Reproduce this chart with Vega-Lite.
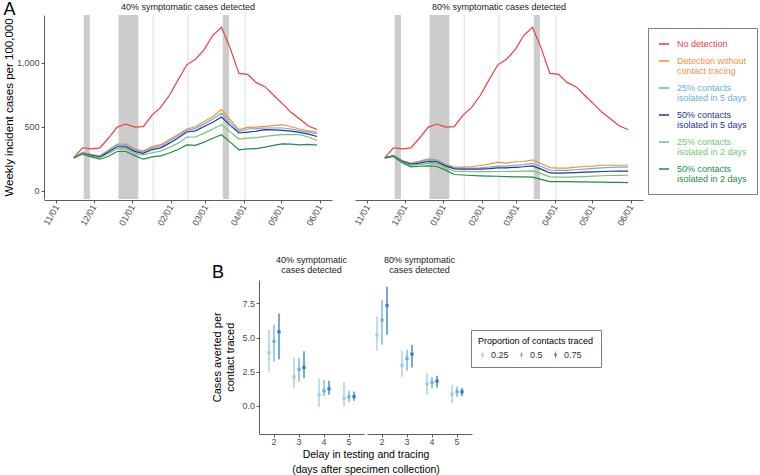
{
"$schema":"https://vega.github.io/schema/vega-lite/v6.json",
"padding":{"left":3,"top":1,"right":0,"bottom":0},
"config":{"font":"Liberation Sans","view":{"stroke":null},
"axis":{"grid":false,"domainColor":"#333333","tickColor":"#333333","labelColor":"#4d4d4d","labelFontSize":9,"titleFontSize":11.5,"titleFontWeight":"normal","titleColor":"#000000","tickSize":3,"domainWidth":0.8,"tickWidth":0.8},
"header":{"labelFontSize":9,"labelColor":"#1a1a1a"},
"title":{"fontWeight":"normal","color":"#000000"}},
"resolve":{"scale":{"color":"independent"},"legend":{"color":"independent"}},
"spacing":28,
"vconcat":[
{
"title":{"text":"A","anchor":"start","frame":"bounds","fontSize":18,"offset":-30,"baseline":"alphabetic"},
"data":{"values":[
{"p":"40%","k":"band","d":"2020/11/23","e":"2020/11/28"},
{"p":"40%","k":"band","d":"2020/12/21","e":"2021/01/06"},
{"p":"40%","k":"band","d":"2021/03/15","e":"2021/03/20"},
{"p":"80%","k":"band","d":"2020/11/23","e":"2020/11/28"},
{"p":"80%","k":"band","d":"2020/12/21","e":"2021/01/06"},
{"p":"80%","k":"band","d":"2021/03/15","e":"2021/03/20"},
{"p":"40%","k":"hol","d":"2021/01/18"},
{"p":"40%","k":"hol","d":"2021/02/15"},
{"p":"40%","k":"hol","d":"2021/04/02"},
{"p":"80%","k":"hol","d":"2021/01/18"},
{"p":"80%","k":"hol","d":"2021/02/15"},
{"p":"80%","k":"hol","d":"2021/04/02"},
{"p":"40%","k":"L","s":"No detection","d":"2020/11/15","v":260},
{"p":"40%","k":"L","s":"No detection","d":"2020/11/22","v":336},
{"p":"40%","k":"L","s":"No detection","d":"2020/11/29","v":328},
{"p":"40%","k":"L","s":"No detection","d":"2020/12/06","v":335},
{"p":"40%","k":"L","s":"No detection","d":"2020/12/13","v":412},
{"p":"40%","k":"L","s":"No detection","d":"2020/12/20","v":497},
{"p":"40%","k":"L","s":"No detection","d":"2020/12/27","v":521},
{"p":"40%","k":"L","s":"No detection","d":"2021/01/03","v":497},
{"p":"40%","k":"L","s":"No detection","d":"2021/01/10","v":500},
{"p":"40%","k":"L","s":"No detection","d":"2021/01/17","v":590},
{"p":"40%","k":"L","s":"No detection","d":"2021/01/24","v":650},
{"p":"40%","k":"L","s":"No detection","d":"2021/01/31","v":745},
{"p":"40%","k":"L","s":"No detection","d":"2021/02/07","v":865},
{"p":"40%","k":"L","s":"No detection","d":"2021/02/14","v":982},
{"p":"40%","k":"L","s":"No detection","d":"2021/02/21","v":1025},
{"p":"40%","k":"L","s":"No detection","d":"2021/02/28","v":1100},
{"p":"40%","k":"L","s":"No detection","d":"2021/03/07","v":1212},
{"p":"40%","k":"L","s":"No detection","d":"2021/03/14","v":1275},
{"p":"40%","k":"L","s":"No detection","d":"2021/03/21","v":1110},
{"p":"40%","k":"L","s":"No detection","d":"2021/03/28","v":915},
{"p":"40%","k":"L","s":"No detection","d":"2021/04/04","v":908},
{"p":"40%","k":"L","s":"No detection","d":"2021/04/11","v":843},
{"p":"40%","k":"L","s":"No detection","d":"2021/04/18","v":812},
{"p":"40%","k":"L","s":"No detection","d":"2021/04/25","v":745},
{"p":"40%","k":"L","s":"No detection","d":"2021/05/02","v":680},
{"p":"40%","k":"L","s":"No detection","d":"2021/05/09","v":612},
{"p":"40%","k":"L","s":"No detection","d":"2021/05/16","v":560},
{"p":"40%","k":"L","s":"No detection","d":"2021/05/23","v":505},
{"p":"40%","k":"L","s":"No detection","d":"2021/05/30","v":478},
{"p":"40%","k":"L","s":"Detection without contact tracing","d":"2020/11/15","v":260},
{"p":"40%","k":"L","s":"Detection without contact tracing","d":"2020/11/22","v":300},
{"p":"40%","k":"L","s":"Detection without contact tracing","d":"2020/11/29","v":285},
{"p":"40%","k":"L","s":"Detection without contact tracing","d":"2020/12/06","v":273},
{"p":"40%","k":"L","s":"Detection without contact tracing","d":"2020/12/13","v":318},
{"p":"40%","k":"L","s":"Detection without contact tracing","d":"2020/12/20","v":365},
{"p":"40%","k":"L","s":"Detection without contact tracing","d":"2020/12/27","v":365},
{"p":"40%","k":"L","s":"Detection without contact tracing","d":"2021/01/03","v":328},
{"p":"40%","k":"L","s":"Detection without contact tracing","d":"2021/01/10","v":310},
{"p":"40%","k":"L","s":"Detection without contact tracing","d":"2021/01/17","v":345},
{"p":"40%","k":"L","s":"Detection without contact tracing","d":"2021/01/24","v":360},
{"p":"40%","k":"L","s":"Detection without contact tracing","d":"2021/01/31","v":400},
{"p":"40%","k":"L","s":"Detection without contact tracing","d":"2021/02/07","v":440},
{"p":"40%","k":"L","s":"Detection without contact tracing","d":"2021/02/14","v":482},
{"p":"40%","k":"L","s":"Detection without contact tracing","d":"2021/02/21","v":500},
{"p":"40%","k":"L","s":"Detection without contact tracing","d":"2021/02/28","v":540},
{"p":"40%","k":"L","s":"Detection without contact tracing","d":"2021/03/07","v":578},
{"p":"40%","k":"L","s":"Detection without contact tracing","d":"2021/03/14","v":633},
{"p":"40%","k":"L","s":"Detection without contact tracing","d":"2021/03/21","v":555},
{"p":"40%","k":"L","s":"Detection without contact tracing","d":"2021/03/28","v":477},
{"p":"40%","k":"L","s":"Detection without contact tracing","d":"2021/04/04","v":495},
{"p":"40%","k":"L","s":"Detection without contact tracing","d":"2021/04/11","v":497},
{"p":"40%","k":"L","s":"Detection without contact tracing","d":"2021/04/18","v":503},
{"p":"40%","k":"L","s":"Detection without contact tracing","d":"2021/04/25","v":508},
{"p":"40%","k":"L","s":"Detection without contact tracing","d":"2021/05/02","v":516},
{"p":"40%","k":"L","s":"Detection without contact tracing","d":"2021/05/09","v":500},
{"p":"40%","k":"L","s":"Detection without contact tracing","d":"2021/05/16","v":482},
{"p":"40%","k":"L","s":"Detection without contact tracing","d":"2021/05/23","v":468},
{"p":"40%","k":"L","s":"Detection without contact tracing","d":"2021/05/30","v":456},
{"p":"40%","k":"L","s":"25% contacts isolated in 5 days","d":"2020/11/15","v":259},
{"p":"40%","k":"L","s":"25% contacts isolated in 5 days","d":"2020/11/22","v":297},
{"p":"40%","k":"L","s":"25% contacts isolated in 5 days","d":"2020/11/29","v":281},
{"p":"40%","k":"L","s":"25% contacts isolated in 5 days","d":"2020/12/06","v":269},
{"p":"40%","k":"L","s":"25% contacts isolated in 5 days","d":"2020/12/13","v":312},
{"p":"40%","k":"L","s":"25% contacts isolated in 5 days","d":"2020/12/20","v":357},
{"p":"40%","k":"L","s":"25% contacts isolated in 5 days","d":"2020/12/27","v":357},
{"p":"40%","k":"L","s":"25% contacts isolated in 5 days","d":"2021/01/03","v":320},
{"p":"40%","k":"L","s":"25% contacts isolated in 5 days","d":"2021/01/10","v":302},
{"p":"40%","k":"L","s":"25% contacts isolated in 5 days","d":"2021/01/17","v":335},
{"p":"40%","k":"L","s":"25% contacts isolated in 5 days","d":"2021/01/24","v":350},
{"p":"40%","k":"L","s":"25% contacts isolated in 5 days","d":"2021/01/31","v":388},
{"p":"40%","k":"L","s":"25% contacts isolated in 5 days","d":"2021/02/07","v":428},
{"p":"40%","k":"L","s":"25% contacts isolated in 5 days","d":"2021/02/14","v":472},
{"p":"40%","k":"L","s":"25% contacts isolated in 5 days","d":"2021/02/21","v":487},
{"p":"40%","k":"L","s":"25% contacts isolated in 5 days","d":"2021/02/28","v":522},
{"p":"40%","k":"L","s":"25% contacts isolated in 5 days","d":"2021/03/07","v":560},
{"p":"40%","k":"L","s":"25% contacts isolated in 5 days","d":"2021/03/14","v":604},
{"p":"40%","k":"L","s":"25% contacts isolated in 5 days","d":"2021/03/21","v":532},
{"p":"40%","k":"L","s":"25% contacts isolated in 5 days","d":"2021/03/28","v":464},
{"p":"40%","k":"L","s":"25% contacts isolated in 5 days","d":"2021/04/04","v":482},
{"p":"40%","k":"L","s":"25% contacts isolated in 5 days","d":"2021/04/11","v":485},
{"p":"40%","k":"L","s":"25% contacts isolated in 5 days","d":"2021/04/18","v":490},
{"p":"40%","k":"L","s":"25% contacts isolated in 5 days","d":"2021/04/25","v":490},
{"p":"40%","k":"L","s":"25% contacts isolated in 5 days","d":"2021/05/02","v":490},
{"p":"40%","k":"L","s":"25% contacts isolated in 5 days","d":"2021/05/09","v":482},
{"p":"40%","k":"L","s":"25% contacts isolated in 5 days","d":"2021/05/16","v":469},
{"p":"40%","k":"L","s":"25% contacts isolated in 5 days","d":"2021/05/23","v":458},
{"p":"40%","k":"L","s":"25% contacts isolated in 5 days","d":"2021/05/30","v":443},
{"p":"40%","k":"L","s":"50% contacts isolated in 5 days","d":"2020/11/15","v":258},
{"p":"40%","k":"L","s":"50% contacts isolated in 5 days","d":"2020/11/22","v":293},
{"p":"40%","k":"L","s":"50% contacts isolated in 5 days","d":"2020/11/29","v":277},
{"p":"40%","k":"L","s":"50% contacts isolated in 5 days","d":"2020/12/06","v":264},
{"p":"40%","k":"L","s":"50% contacts isolated in 5 days","d":"2020/12/13","v":303},
{"p":"40%","k":"L","s":"50% contacts isolated in 5 days","d":"2020/12/20","v":344},
{"p":"40%","k":"L","s":"50% contacts isolated in 5 days","d":"2020/12/27","v":344},
{"p":"40%","k":"L","s":"50% contacts isolated in 5 days","d":"2021/01/03","v":308},
{"p":"40%","k":"L","s":"50% contacts isolated in 5 days","d":"2021/01/10","v":292},
{"p":"40%","k":"L","s":"50% contacts isolated in 5 days","d":"2021/01/17","v":322},
{"p":"40%","k":"L","s":"50% contacts isolated in 5 days","d":"2021/01/24","v":335},
{"p":"40%","k":"L","s":"50% contacts isolated in 5 days","d":"2021/01/31","v":372},
{"p":"40%","k":"L","s":"50% contacts isolated in 5 days","d":"2021/02/07","v":412},
{"p":"40%","k":"L","s":"50% contacts isolated in 5 days","d":"2021/02/14","v":459},
{"p":"40%","k":"L","s":"50% contacts isolated in 5 days","d":"2021/02/21","v":468},
{"p":"40%","k":"L","s":"50% contacts isolated in 5 days","d":"2021/02/28","v":502},
{"p":"40%","k":"L","s":"50% contacts isolated in 5 days","d":"2021/03/07","v":535},
{"p":"40%","k":"L","s":"50% contacts isolated in 5 days","d":"2021/03/14","v":576},
{"p":"40%","k":"L","s":"50% contacts isolated in 5 days","d":"2021/03/21","v":510},
{"p":"40%","k":"L","s":"50% contacts isolated in 5 days","d":"2021/03/28","v":451},
{"p":"40%","k":"L","s":"50% contacts isolated in 5 days","d":"2021/04/04","v":458},
{"p":"40%","k":"L","s":"50% contacts isolated in 5 days","d":"2021/04/11","v":465},
{"p":"40%","k":"L","s":"50% contacts isolated in 5 days","d":"2021/04/18","v":477},
{"p":"40%","k":"L","s":"50% contacts isolated in 5 days","d":"2021/04/25","v":475},
{"p":"40%","k":"L","s":"50% contacts isolated in 5 days","d":"2021/05/02","v":471},
{"p":"40%","k":"L","s":"50% contacts isolated in 5 days","d":"2021/05/09","v":465},
{"p":"40%","k":"L","s":"50% contacts isolated in 5 days","d":"2021/05/16","v":456},
{"p":"40%","k":"L","s":"50% contacts isolated in 5 days","d":"2021/05/23","v":442},
{"p":"40%","k":"L","s":"50% contacts isolated in 5 days","d":"2021/05/30","v":424},
{"p":"40%","k":"L","s":"25% contacts isolated in 2 days","d":"2020/11/15","v":257},
{"p":"40%","k":"L","s":"25% contacts isolated in 2 days","d":"2020/11/22","v":290},
{"p":"40%","k":"L","s":"25% contacts isolated in 2 days","d":"2020/11/29","v":271},
{"p":"40%","k":"L","s":"25% contacts isolated in 2 days","d":"2020/12/06","v":257},
{"p":"40%","k":"L","s":"25% contacts isolated in 2 days","d":"2020/12/13","v":292},
{"p":"40%","k":"L","s":"25% contacts isolated in 2 days","d":"2020/12/20","v":328},
{"p":"40%","k":"L","s":"25% contacts isolated in 2 days","d":"2020/12/27","v":328},
{"p":"40%","k":"L","s":"25% contacts isolated in 2 days","d":"2021/01/03","v":292},
{"p":"40%","k":"L","s":"25% contacts isolated in 2 days","d":"2021/01/10","v":281},
{"p":"40%","k":"L","s":"25% contacts isolated in 2 days","d":"2021/01/17","v":297},
{"p":"40%","k":"L","s":"25% contacts isolated in 2 days","d":"2021/01/24","v":310},
{"p":"40%","k":"L","s":"25% contacts isolated in 2 days","d":"2021/01/31","v":338},
{"p":"40%","k":"L","s":"25% contacts isolated in 2 days","d":"2021/02/07","v":372},
{"p":"40%","k":"L","s":"25% contacts isolated in 2 days","d":"2021/02/14","v":419},
{"p":"40%","k":"L","s":"25% contacts isolated in 2 days","d":"2021/02/21","v":420},
{"p":"40%","k":"L","s":"25% contacts isolated in 2 days","d":"2021/02/28","v":450},
{"p":"40%","k":"L","s":"25% contacts isolated in 2 days","d":"2021/03/07","v":482},
{"p":"40%","k":"L","s":"25% contacts isolated in 2 days","d":"2021/03/14","v":516},
{"p":"40%","k":"L","s":"25% contacts isolated in 2 days","d":"2021/03/21","v":460},
{"p":"40%","k":"L","s":"25% contacts isolated in 2 days","d":"2021/03/28","v":404},
{"p":"40%","k":"L","s":"25% contacts isolated in 2 days","d":"2021/04/04","v":411},
{"p":"40%","k":"L","s":"25% contacts isolated in 2 days","d":"2021/04/11","v":415},
{"p":"40%","k":"L","s":"25% contacts isolated in 2 days","d":"2021/04/18","v":425},
{"p":"40%","k":"L","s":"25% contacts isolated in 2 days","d":"2021/04/25","v":432},
{"p":"40%","k":"L","s":"25% contacts isolated in 2 days","d":"2021/05/02","v":438},
{"p":"40%","k":"L","s":"25% contacts isolated in 2 days","d":"2021/05/09","v":440},
{"p":"40%","k":"L","s":"25% contacts isolated in 2 days","d":"2021/05/16","v":438},
{"p":"40%","k":"L","s":"25% contacts isolated in 2 days","d":"2021/05/23","v":420},
{"p":"40%","k":"L","s":"25% contacts isolated in 2 days","d":"2021/05/30","v":393},
{"p":"40%","k":"L","s":"50% contacts isolated in 2 days","d":"2020/11/15","v":255},
{"p":"40%","k":"L","s":"50% contacts isolated in 2 days","d":"2020/11/22","v":287},
{"p":"40%","k":"L","s":"50% contacts isolated in 2 days","d":"2020/11/29","v":265},
{"p":"40%","k":"L","s":"50% contacts isolated in 2 days","d":"2020/12/06","v":247},
{"p":"40%","k":"L","s":"50% contacts isolated in 2 days","d":"2020/12/13","v":270},
{"p":"40%","k":"L","s":"50% contacts isolated in 2 days","d":"2020/12/20","v":307},
{"p":"40%","k":"L","s":"50% contacts isolated in 2 days","d":"2020/12/27","v":307},
{"p":"40%","k":"L","s":"50% contacts isolated in 2 days","d":"2021/01/03","v":275},
{"p":"40%","k":"L","s":"50% contacts isolated in 2 days","d":"2021/01/10","v":247},
{"p":"40%","k":"L","s":"50% contacts isolated in 2 days","d":"2021/01/17","v":265},
{"p":"40%","k":"L","s":"50% contacts isolated in 2 days","d":"2021/01/24","v":273},
{"p":"40%","k":"L","s":"50% contacts isolated in 2 days","d":"2021/01/31","v":295},
{"p":"40%","k":"L","s":"50% contacts isolated in 2 days","d":"2021/02/07","v":322},
{"p":"40%","k":"L","s":"50% contacts isolated in 2 days","d":"2021/02/14","v":358},
{"p":"40%","k":"L","s":"50% contacts isolated in 2 days","d":"2021/02/21","v":355},
{"p":"40%","k":"L","s":"50% contacts isolated in 2 days","d":"2021/02/28","v":380},
{"p":"40%","k":"L","s":"50% contacts isolated in 2 days","d":"2021/03/07","v":410},
{"p":"40%","k":"L","s":"50% contacts isolated in 2 days","d":"2021/03/14","v":438},
{"p":"40%","k":"L","s":"50% contacts isolated in 2 days","d":"2021/03/21","v":380},
{"p":"40%","k":"L","s":"50% contacts isolated in 2 days","d":"2021/03/28","v":320},
{"p":"40%","k":"L","s":"50% contacts isolated in 2 days","d":"2021/04/04","v":328},
{"p":"40%","k":"L","s":"50% contacts isolated in 2 days","d":"2021/04/11","v":330},
{"p":"40%","k":"L","s":"50% contacts isolated in 2 days","d":"2021/04/18","v":341},
{"p":"40%","k":"L","s":"50% contacts isolated in 2 days","d":"2021/04/25","v":355},
{"p":"40%","k":"L","s":"50% contacts isolated in 2 days","d":"2021/05/02","v":367},
{"p":"40%","k":"L","s":"50% contacts isolated in 2 days","d":"2021/05/09","v":365},
{"p":"40%","k":"L","s":"50% contacts isolated in 2 days","d":"2021/05/16","v":359},
{"p":"40%","k":"L","s":"50% contacts isolated in 2 days","d":"2021/05/23","v":362},
{"p":"40%","k":"L","s":"50% contacts isolated in 2 days","d":"2021/05/30","v":357},
{"p":"80%","k":"L","s":"No detection","d":"2020/11/15","v":260},
{"p":"80%","k":"L","s":"No detection","d":"2020/11/22","v":336},
{"p":"80%","k":"L","s":"No detection","d":"2020/11/29","v":328},
{"p":"80%","k":"L","s":"No detection","d":"2020/12/06","v":335},
{"p":"80%","k":"L","s":"No detection","d":"2020/12/13","v":412},
{"p":"80%","k":"L","s":"No detection","d":"2020/12/20","v":497},
{"p":"80%","k":"L","s":"No detection","d":"2020/12/27","v":521},
{"p":"80%","k":"L","s":"No detection","d":"2021/01/03","v":497},
{"p":"80%","k":"L","s":"No detection","d":"2021/01/10","v":500},
{"p":"80%","k":"L","s":"No detection","d":"2021/01/17","v":590},
{"p":"80%","k":"L","s":"No detection","d":"2021/01/24","v":650},
{"p":"80%","k":"L","s":"No detection","d":"2021/01/31","v":745},
{"p":"80%","k":"L","s":"No detection","d":"2021/02/07","v":865},
{"p":"80%","k":"L","s":"No detection","d":"2021/02/14","v":982},
{"p":"80%","k":"L","s":"No detection","d":"2021/02/21","v":1025},
{"p":"80%","k":"L","s":"No detection","d":"2021/02/28","v":1100},
{"p":"80%","k":"L","s":"No detection","d":"2021/03/07","v":1212},
{"p":"80%","k":"L","s":"No detection","d":"2021/03/14","v":1275},
{"p":"80%","k":"L","s":"No detection","d":"2021/03/21","v":1110},
{"p":"80%","k":"L","s":"No detection","d":"2021/03/28","v":915},
{"p":"80%","k":"L","s":"No detection","d":"2021/04/04","v":908},
{"p":"80%","k":"L","s":"No detection","d":"2021/04/11","v":843},
{"p":"80%","k":"L","s":"No detection","d":"2021/04/18","v":812},
{"p":"80%","k":"L","s":"No detection","d":"2021/04/25","v":745},
{"p":"80%","k":"L","s":"No detection","d":"2021/05/02","v":680},
{"p":"80%","k":"L","s":"No detection","d":"2021/05/09","v":612},
{"p":"80%","k":"L","s":"No detection","d":"2021/05/16","v":560},
{"p":"80%","k":"L","s":"No detection","d":"2021/05/23","v":505},
{"p":"80%","k":"L","s":"No detection","d":"2021/05/30","v":478},
{"p":"80%","k":"L","s":"Detection without contact tracing","d":"2020/11/15","v":260},
{"p":"80%","k":"L","s":"Detection without contact tracing","d":"2020/11/22","v":276},
{"p":"80%","k":"L","s":"Detection without contact tracing","d":"2020/11/29","v":237},
{"p":"80%","k":"L","s":"Detection without contact tracing","d":"2020/12/06","v":216},
{"p":"80%","k":"L","s":"Detection without contact tracing","d":"2020/12/13","v":232},
{"p":"80%","k":"L","s":"Detection without contact tracing","d":"2020/12/20","v":250},
{"p":"80%","k":"L","s":"Detection without contact tracing","d":"2020/12/27","v":242},
{"p":"80%","k":"L","s":"Detection without contact tracing","d":"2021/01/03","v":208},
{"p":"80%","k":"L","s":"Detection without contact tracing","d":"2021/01/10","v":185},
{"p":"80%","k":"L","s":"Detection without contact tracing","d":"2021/01/17","v":185},
{"p":"80%","k":"L","s":"Detection without contact tracing","d":"2021/01/24","v":190},
{"p":"80%","k":"L","s":"Detection without contact tracing","d":"2021/01/31","v":198},
{"p":"80%","k":"L","s":"Detection without contact tracing","d":"2021/02/07","v":208},
{"p":"80%","k":"L","s":"Detection without contact tracing","d":"2021/02/14","v":224},
{"p":"80%","k":"L","s":"Detection without contact tracing","d":"2021/02/21","v":216},
{"p":"80%","k":"L","s":"Detection without contact tracing","d":"2021/02/28","v":227},
{"p":"80%","k":"L","s":"Detection without contact tracing","d":"2021/03/07","v":229},
{"p":"80%","k":"L","s":"Detection without contact tracing","d":"2021/03/14","v":242},
{"p":"80%","k":"L","s":"Detection without contact tracing","d":"2021/03/21","v":212},
{"p":"80%","k":"L","s":"Detection without contact tracing","d":"2021/03/28","v":182},
{"p":"80%","k":"L","s":"Detection without contact tracing","d":"2021/04/04","v":177},
{"p":"80%","k":"L","s":"Detection without contact tracing","d":"2021/04/11","v":177},
{"p":"80%","k":"L","s":"Detection without contact tracing","d":"2021/04/18","v":185},
{"p":"80%","k":"L","s":"Detection without contact tracing","d":"2021/04/25","v":190},
{"p":"80%","k":"L","s":"Detection without contact tracing","d":"2021/05/02","v":193},
{"p":"80%","k":"L","s":"Detection without contact tracing","d":"2021/05/09","v":200},
{"p":"80%","k":"L","s":"Detection without contact tracing","d":"2021/05/16","v":200},
{"p":"80%","k":"L","s":"Detection without contact tracing","d":"2021/05/23","v":200},
{"p":"80%","k":"L","s":"Detection without contact tracing","d":"2021/05/30","v":200},
{"p":"80%","k":"L","s":"25% contacts isolated in 5 days","d":"2020/11/15","v":259},
{"p":"80%","k":"L","s":"25% contacts isolated in 5 days","d":"2020/11/22","v":274},
{"p":"80%","k":"L","s":"25% contacts isolated in 5 days","d":"2020/11/29","v":234},
{"p":"80%","k":"L","s":"25% contacts isolated in 5 days","d":"2020/12/06","v":213},
{"p":"80%","k":"L","s":"25% contacts isolated in 5 days","d":"2020/12/13","v":226},
{"p":"80%","k":"L","s":"25% contacts isolated in 5 days","d":"2020/12/20","v":243},
{"p":"80%","k":"L","s":"25% contacts isolated in 5 days","d":"2020/12/27","v":237},
{"p":"80%","k":"L","s":"25% contacts isolated in 5 days","d":"2021/01/03","v":204},
{"p":"80%","k":"L","s":"25% contacts isolated in 5 days","d":"2021/01/10","v":178},
{"p":"80%","k":"L","s":"25% contacts isolated in 5 days","d":"2021/01/17","v":177},
{"p":"80%","k":"L","s":"25% contacts isolated in 5 days","d":"2021/01/24","v":178},
{"p":"80%","k":"L","s":"25% contacts isolated in 5 days","d":"2021/01/31","v":180},
{"p":"80%","k":"L","s":"25% contacts isolated in 5 days","d":"2021/02/07","v":185},
{"p":"80%","k":"L","s":"25% contacts isolated in 5 days","d":"2021/02/14","v":193},
{"p":"80%","k":"L","s":"25% contacts isolated in 5 days","d":"2021/02/21","v":193},
{"p":"80%","k":"L","s":"25% contacts isolated in 5 days","d":"2021/02/28","v":200},
{"p":"80%","k":"L","s":"25% contacts isolated in 5 days","d":"2021/03/07","v":205},
{"p":"80%","k":"L","s":"25% contacts isolated in 5 days","d":"2021/03/14","v":215},
{"p":"80%","k":"L","s":"25% contacts isolated in 5 days","d":"2021/03/21","v":190},
{"p":"80%","k":"L","s":"25% contacts isolated in 5 days","d":"2021/03/28","v":162},
{"p":"80%","k":"L","s":"25% contacts isolated in 5 days","d":"2021/04/04","v":160},
{"p":"80%","k":"L","s":"25% contacts isolated in 5 days","d":"2021/04/11","v":160},
{"p":"80%","k":"L","s":"25% contacts isolated in 5 days","d":"2021/04/18","v":165},
{"p":"80%","k":"L","s":"25% contacts isolated in 5 days","d":"2021/04/25","v":170},
{"p":"80%","k":"L","s":"25% contacts isolated in 5 days","d":"2021/05/02","v":175},
{"p":"80%","k":"L","s":"25% contacts isolated in 5 days","d":"2021/05/09","v":180},
{"p":"80%","k":"L","s":"25% contacts isolated in 5 days","d":"2021/05/16","v":183},
{"p":"80%","k":"L","s":"25% contacts isolated in 5 days","d":"2021/05/23","v":185},
{"p":"80%","k":"L","s":"25% contacts isolated in 5 days","d":"2021/05/30","v":185},
{"p":"80%","k":"L","s":"50% contacts isolated in 5 days","d":"2020/11/15","v":258},
{"p":"80%","k":"L","s":"50% contacts isolated in 5 days","d":"2020/11/22","v":272},
{"p":"80%","k":"L","s":"50% contacts isolated in 5 days","d":"2020/11/29","v":230},
{"p":"80%","k":"L","s":"50% contacts isolated in 5 days","d":"2020/12/06","v":207},
{"p":"80%","k":"L","s":"50% contacts isolated in 5 days","d":"2020/12/13","v":217},
{"p":"80%","k":"L","s":"50% contacts isolated in 5 days","d":"2020/12/20","v":230},
{"p":"80%","k":"L","s":"50% contacts isolated in 5 days","d":"2020/12/27","v":227},
{"p":"80%","k":"L","s":"50% contacts isolated in 5 days","d":"2021/01/03","v":195},
{"p":"80%","k":"L","s":"50% contacts isolated in 5 days","d":"2021/01/10","v":172},
{"p":"80%","k":"L","s":"50% contacts isolated in 5 days","d":"2021/01/17","v":170},
{"p":"80%","k":"L","s":"50% contacts isolated in 5 days","d":"2021/01/24","v":170},
{"p":"80%","k":"L","s":"50% contacts isolated in 5 days","d":"2021/01/31","v":170},
{"p":"80%","k":"L","s":"50% contacts isolated in 5 days","d":"2021/02/07","v":174},
{"p":"80%","k":"L","s":"50% contacts isolated in 5 days","d":"2021/02/14","v":180},
{"p":"80%","k":"L","s":"50% contacts isolated in 5 days","d":"2021/02/21","v":180},
{"p":"80%","k":"L","s":"50% contacts isolated in 5 days","d":"2021/02/28","v":184},
{"p":"80%","k":"L","s":"50% contacts isolated in 5 days","d":"2021/03/07","v":188},
{"p":"80%","k":"L","s":"50% contacts isolated in 5 days","d":"2021/03/14","v":195},
{"p":"80%","k":"L","s":"50% contacts isolated in 5 days","d":"2021/03/21","v":170},
{"p":"80%","k":"L","s":"50% contacts isolated in 5 days","d":"2021/03/28","v":140},
{"p":"80%","k":"L","s":"50% contacts isolated in 5 days","d":"2021/04/04","v":138},
{"p":"80%","k":"L","s":"50% contacts isolated in 5 days","d":"2021/04/11","v":140},
{"p":"80%","k":"L","s":"50% contacts isolated in 5 days","d":"2021/04/18","v":143},
{"p":"80%","k":"L","s":"50% contacts isolated in 5 days","d":"2021/04/25","v":146},
{"p":"80%","k":"L","s":"50% contacts isolated in 5 days","d":"2021/05/02","v":148},
{"p":"80%","k":"L","s":"50% contacts isolated in 5 days","d":"2021/05/09","v":151},
{"p":"80%","k":"L","s":"50% contacts isolated in 5 days","d":"2021/05/16","v":153},
{"p":"80%","k":"L","s":"50% contacts isolated in 5 days","d":"2021/05/23","v":154},
{"p":"80%","k":"L","s":"50% contacts isolated in 5 days","d":"2021/05/30","v":154},
{"p":"80%","k":"L","s":"25% contacts isolated in 2 days","d":"2020/11/15","v":257},
{"p":"80%","k":"L","s":"25% contacts isolated in 2 days","d":"2020/11/22","v":270},
{"p":"80%","k":"L","s":"25% contacts isolated in 2 days","d":"2020/11/29","v":225},
{"p":"80%","k":"L","s":"25% contacts isolated in 2 days","d":"2020/12/06","v":200},
{"p":"80%","k":"L","s":"25% contacts isolated in 2 days","d":"2020/12/13","v":205},
{"p":"80%","k":"L","s":"25% contacts isolated in 2 days","d":"2020/12/20","v":215},
{"p":"80%","k":"L","s":"25% contacts isolated in 2 days","d":"2020/12/27","v":212},
{"p":"80%","k":"L","s":"25% contacts isolated in 2 days","d":"2021/01/03","v":180},
{"p":"80%","k":"L","s":"25% contacts isolated in 2 days","d":"2021/01/10","v":153},
{"p":"80%","k":"L","s":"25% contacts isolated in 2 days","d":"2021/01/17","v":152},
{"p":"80%","k":"L","s":"25% contacts isolated in 2 days","d":"2021/01/24","v":151},
{"p":"80%","k":"L","s":"25% contacts isolated in 2 days","d":"2021/01/31","v":150},
{"p":"80%","k":"L","s":"25% contacts isolated in 2 days","d":"2021/02/07","v":150},
{"p":"80%","k":"L","s":"25% contacts isolated in 2 days","d":"2021/02/14","v":151},
{"p":"80%","k":"L","s":"25% contacts isolated in 2 days","d":"2021/02/21","v":151},
{"p":"80%","k":"L","s":"25% contacts isolated in 2 days","d":"2021/02/28","v":152},
{"p":"80%","k":"L","s":"25% contacts isolated in 2 days","d":"2021/03/07","v":154},
{"p":"80%","k":"L","s":"25% contacts isolated in 2 days","d":"2021/03/14","v":156},
{"p":"80%","k":"L","s":"25% contacts isolated in 2 days","d":"2021/03/21","v":135},
{"p":"80%","k":"L","s":"25% contacts isolated in 2 days","d":"2021/03/28","v":110},
{"p":"80%","k":"L","s":"25% contacts isolated in 2 days","d":"2021/04/04","v":108},
{"p":"80%","k":"L","s":"25% contacts isolated in 2 days","d":"2021/04/11","v":108},
{"p":"80%","k":"L","s":"25% contacts isolated in 2 days","d":"2021/04/18","v":110},
{"p":"80%","k":"L","s":"25% contacts isolated in 2 days","d":"2021/04/25","v":112},
{"p":"80%","k":"L","s":"25% contacts isolated in 2 days","d":"2021/05/02","v":115},
{"p":"80%","k":"L","s":"25% contacts isolated in 2 days","d":"2021/05/09","v":118},
{"p":"80%","k":"L","s":"25% contacts isolated in 2 days","d":"2021/05/16","v":120},
{"p":"80%","k":"L","s":"25% contacts isolated in 2 days","d":"2021/05/23","v":121},
{"p":"80%","k":"L","s":"25% contacts isolated in 2 days","d":"2021/05/30","v":122},
{"p":"80%","k":"L","s":"50% contacts isolated in 2 days","d":"2020/11/15","v":255},
{"p":"80%","k":"L","s":"50% contacts isolated in 2 days","d":"2020/11/22","v":268},
{"p":"80%","k":"L","s":"50% contacts isolated in 2 days","d":"2020/11/29","v":220},
{"p":"80%","k":"L","s":"50% contacts isolated in 2 days","d":"2020/12/06","v":188},
{"p":"80%","k":"L","s":"50% contacts isolated in 2 days","d":"2020/12/13","v":192},
{"p":"80%","k":"L","s":"50% contacts isolated in 2 days","d":"2020/12/20","v":195},
{"p":"80%","k":"L","s":"50% contacts isolated in 2 days","d":"2020/12/27","v":190},
{"p":"80%","k":"L","s":"50% contacts isolated in 2 days","d":"2021/01/03","v":162},
{"p":"80%","k":"L","s":"50% contacts isolated in 2 days","d":"2021/01/10","v":128},
{"p":"80%","k":"L","s":"50% contacts isolated in 2 days","d":"2021/01/17","v":124},
{"p":"80%","k":"L","s":"50% contacts isolated in 2 days","d":"2021/01/24","v":120},
{"p":"80%","k":"L","s":"50% contacts isolated in 2 days","d":"2021/01/31","v":117},
{"p":"80%","k":"L","s":"50% contacts isolated in 2 days","d":"2021/02/07","v":115},
{"p":"80%","k":"L","s":"50% contacts isolated in 2 days","d":"2021/02/14","v":114},
{"p":"80%","k":"L","s":"50% contacts isolated in 2 days","d":"2021/02/21","v":112},
{"p":"80%","k":"L","s":"50% contacts isolated in 2 days","d":"2021/02/28","v":110},
{"p":"80%","k":"L","s":"50% contacts isolated in 2 days","d":"2021/03/07","v":109},
{"p":"80%","k":"L","s":"50% contacts isolated in 2 days","d":"2021/03/14","v":107},
{"p":"80%","k":"L","s":"50% contacts isolated in 2 days","d":"2021/03/21","v":90},
{"p":"80%","k":"L","s":"50% contacts isolated in 2 days","d":"2021/03/28","v":73},
{"p":"80%","k":"L","s":"50% contacts isolated in 2 days","d":"2021/04/04","v":72},
{"p":"80%","k":"L","s":"50% contacts isolated in 2 days","d":"2021/04/11","v":72},
{"p":"80%","k":"L","s":"50% contacts isolated in 2 days","d":"2021/04/18","v":71},
{"p":"80%","k":"L","s":"50% contacts isolated in 2 days","d":"2021/04/25","v":70},
{"p":"80%","k":"L","s":"50% contacts isolated in 2 days","d":"2021/05/02","v":69},
{"p":"80%","k":"L","s":"50% contacts isolated in 2 days","d":"2021/05/09","v":68},
{"p":"80%","k":"L","s":"50% contacts isolated in 2 days","d":"2021/05/16","v":67},
{"p":"80%","k":"L","s":"50% contacts isolated in 2 days","d":"2021/05/23","v":66},
{"p":"80%","k":"L","s":"50% contacts isolated in 2 days","d":"2021/05/30","v":65}
]},
"facet":{"column":{"field":"p","type":"nominal","header":{"title":null,"labelExpr":"datum.value + ' symptomatic cases detected'","labelFontSize":9,"labelPadding":2}}},
"spacing":23,
"spec":{
"width":288,"height":184,
"layer":[
{"transform":[{"filter":"datum.k == 'band'"}],"mark":{"type":"rect","color":"#cccccc"},
"encoding":{"x":{"field":"d","type":"temporal","title":null,"scale":{"domain":[{"year":2020,"month":10,"date":22},{"year":2021,"month":6,"date":11}]},"axis":{"values":[{"year":2020,"month":11,"date":1},{"year":2020,"month":12,"date":1},{"year":2021,"month":1,"date":1},{"year":2021,"month":2,"date":1},{"year":2021,"month":3,"date":1},{"year":2021,"month":4,"date":1},{"year":2021,"month":5,"date":1},{"year":2021,"month":6,"date":1}],"format":"%m/%d","labelAngle":-60,"labelAlign":"right","labelBaseline":"middle","labelPadding":2,"title":null}},"x2":{"field":"e"}}},
{"transform":[{"filter":"datum.k == 'hol'"}],"mark":{"type":"rule","color":"#dcdcdc","strokeWidth":1},
"encoding":{"x":{"field":"d","type":"temporal","title":null}}},
{"transform":[{"filter":"datum.k == 'L'"}],"mark":{"type":"line","strokeWidth":1.2},
"encoding":{"x":{"field":"d","type":"temporal","title":null},
"y":{"field":"v","type":"quantitative","scale":{"domain":[-63,1370],"nice":false,"zero":false},"axis":{"values":[0,500,1000],"format":",.0f","title":"Weekly incident cases per 100,000","titlePadding":2,"labelPadding":2}},
"color":{"field":"s","type":"nominal","scale":{"domain":["No detection","Detection without contact tracing","25% contacts isolated in 5 days","50% contacts isolated in 5 days","25% contacts isolated in 2 days","50% contacts isolated in 2 days"],"range":["#ef3b42","#fd8d3c","#6baed6","#253494","#74c476","#238b45"]},
"legend":{"orient":"none","legendX":604,"legendY":13,"title":null,"symbolType":"stroke","symbolStrokeWidth":1.5,"symbolSize":100,"labelFontSize":9,"labelOffset":7,"labelLimit":200,"rowPadding":6,"padding":10,"strokeColor":"#7f7f7f",
"labelExpr":"datum.label == 'No detection' ? datum.label : datum.label == 'Detection without contact tracing' ? ['Detection without', 'contact tracing'] : [substring(datum.label, 0, 12), substring(datum.label, 13) + '   ']",
"encode":{"labels":{"update":{"lineHeight":{"value":9.5},"fill":{"signal":"datum.value == 'No detection' ? '#ef3b42' : datum.value == 'Detection without contact tracing' ? '#fd8d3c' : datum.value == '25% contacts isolated in 5 days' ? '#6baed6' : datum.value == '50% contacts isolated in 5 days' ? '#253494' : datum.value == '25% contacts isolated in 2 days' ? '#74c476' : '#238b45'"}}}}}}}}
]}
},
{
"resolve":{"scale":{"color":"independent"},"legend":{"color":"independent"}},
"spacing":0,
"hconcat":[
{"width":167,"height":10,"data":{"values":[{}]},"mark":{"type":"text"},"encoding":{"text":{"value":""}}},
{
"title":{"text":"B","anchor":"start","frame":"bounds","fontSize":18,"offset":-40,"baseline":"alphabetic"},
"data":{"values":[
{"panel":"40%","delay":2,"prop":"0.25","mean":3.89,"lo":2.52,"hi":5.57},
{"panel":"40%","delay":2,"prop":"0.5","mean":4.72,"lo":3.25,"hi":5.94},
{"panel":"40%","delay":2,"prop":"0.75","mean":5.43,"lo":3.42,"hi":6.77},
{"panel":"40%","delay":3,"prop":"0.25","mean":2.13,"lo":1.30,"hi":3.50},
{"panel":"40%","delay":3,"prop":"0.5","mean":2.67,"lo":1.78,"hi":3.50},
{"panel":"40%","delay":3,"prop":"0.75","mean":2.81,"lo":2.03,"hi":3.99},
{"panel":"40%","delay":4,"prop":"0.25","mean":0.81,"lo":-0.05,"hi":2.00},
{"panel":"40%","delay":4,"prop":"0.5","mean":1.10,"lo":0.71,"hi":1.88},
{"panel":"40%","delay":4,"prop":"0.75","mean":1.25,"lo":0.81,"hi":1.83},
{"panel":"40%","delay":5,"prop":"0.25","mean":0.56,"lo":-0.05,"hi":1.74},
{"panel":"40%","delay":5,"prop":"0.5","mean":0.66,"lo":0.24,"hi":1.10},
{"panel":"40%","delay":5,"prop":"0.75","mean":0.68,"lo":0.37,"hi":1.05},
{"panel":"80%","delay":2,"prop":"0.25","mean":5.18,"lo":4.03,"hi":6.55},
{"panel":"80%","delay":2,"prop":"0.5","mean":6.28,"lo":4.47,"hi":7.78},
{"panel":"80%","delay":2,"prop":"0.75","mean":7.36,"lo":5.21,"hi":8.73},
{"panel":"80%","delay":3,"prop":"0.25","mean":2.96,"lo":2.13,"hi":4.03},
{"panel":"80%","delay":3,"prop":"0.5","mean":3.47,"lo":2.57,"hi":4.11},
{"panel":"80%","delay":3,"prop":"0.75","mean":3.79,"lo":2.81,"hi":4.47},
{"panel":"80%","delay":4,"prop":"0.25","mean":1.61,"lo":0.81,"hi":2.40},
{"panel":"80%","delay":4,"prop":"0.5","mean":1.71,"lo":1.27,"hi":2.13},
{"panel":"80%","delay":4,"prop":"0.75","mean":1.81,"lo":1.34,"hi":2.20},
{"panel":"80%","delay":5,"prop":"0.25","mean":0.86,"lo":0.20,"hi":1.54},
{"panel":"80%","delay":5,"prop":"0.5","mean":1.03,"lo":0.66,"hi":1.39},
{"panel":"80%","delay":5,"prop":"0.75","mean":1.03,"lo":0.71,"hi":1.30}
]},
"facet":{"column":{"field":"panel","type":"nominal","header":{"title":["Delay in testing and tracing","(days after specimen collection)"],"titleOrient":"bottom","titleFontSize":10.5,"titleFontWeight":"normal","titleColor":"#000000","titleLineHeight":14.5,"titlePadding":-6,"labelOrient":"top","labelExpr":"[datum.value + ' symptomatic', 'cases detected']","labelFontSize":9,"labelLineHeight":9.6,"labelPadding":5}}},
"spacing":3,
"spec":{
"width":105,"height":153.5,
"encoding":{
"x":{"field":"delay","type":"ordinal","scale":{"paddingInner":0.4,"paddingOuter":0.3},"axis":{"title":null,"labelAngle":0,"labelPadding":0}},
"xOffset":{"field":"prop","type":"nominal","scale":{"paddingInner":0,"paddingOuter":0}},
"color":{"field":"prop","type":"nominal","scale":{"domain":["0.25","0.5","0.75"],"range":["#9ecae1","#6baed6","#2b7bc6"]},
"legend":{"orient":"none","legendX":212,"legendY":50,"direction":"horizontal","title":"Proportion of contacts traced","titleFontSize":9,"titleFontWeight":"normal","titleColor":"#000000","titlePadding":4,"labelFontSize":9,"labelColor":"#333333","strokeColor":"#7f7f7f","padding":7,"symbolType":"M-0.12,-1H0.12V1H-0.12Z M-0.35,-0.3H0.35V0.3H-0.35Z","symbolSize":45,"symbolStrokeWidth":0,"columnPadding":8,"labelOffset":4}}
},
"layer":[
{"mark":{"type":"rule","strokeWidth":1.3},"encoding":{"y":{"field":"lo","type":"quantitative","scale":{"domain":[-2.03,9.22],"nice":false,"zero":false},"axis":{"values":[0,2.5,5,7.5],"format":".1f","title":["Cases averted per","contact traced"],"titleFontSize":11,"titlePadding":6,"labelPadding":1.5}},"y2":{"field":"hi"}}},
{"mark":{"type":"point","shape":"square","filled":true,"size":10,"opacity":1},"encoding":{"y":{"field":"mean","type":"quantitative"}}}
]}
}
]}
]}
